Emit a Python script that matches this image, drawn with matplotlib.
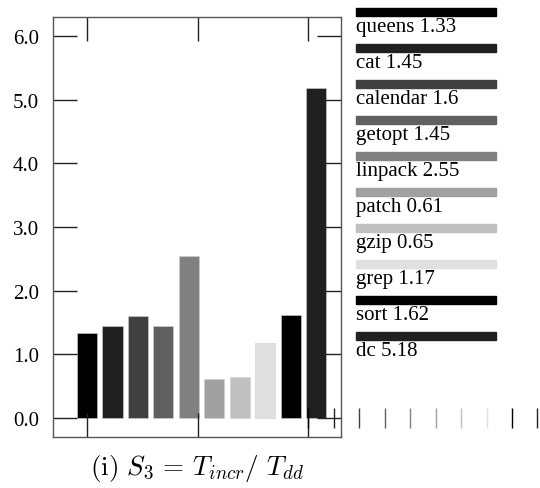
import matplotlib
matplotlib.use('Agg')
import matplotlib.pyplot as plt
from matplotlib.patches import Rectangle

plt.rcParams['font.family'] = 'Liberation Serif'
plt.rcParams['mathtext.fontset'] = 'cm'

# benchmark names, speedup values and bar greys
names = ['queens', 'cat', 'calendar', 'getopt', 'linpack',
         'patch', 'gzip', 'grep', 'sort', 'dc']
values = [1.33, 1.45, 1.6, 1.45, 2.55, 0.61, 0.65, 1.17, 1.62, 5.18]
colors = ['#000000', '#202020', '#404040', '#606060', '#808080',
          '#a0a0a0', '#c0c0c0', '#e0e0e0', '#000000', '#202020']
yticks = [0, 1, 2, 3, 4, 5, 6]
xticks = [0, 4.35, 8.7]

fig = plt.figure(figsize=(5.4, 4.89), dpi=100)
ax = fig.add_axes([53/540, 1 - 438/489, 288/540, 420/489])

x = list(range(len(values)))
ax.bar(x, values, width=0.79, color=colors, edgecolor='#d0d0d0', linewidth=0.4)

# stray zero-height marks from the original plot, continuing to the right
for i, c in enumerate(colors):
    ax.vlines(8.7 + i, -0.16, 0.16, color=c, linewidth=1.0, clip_on=False)

ax.set_xlim(-1.34, 9.98)
ax.set_ylim(-0.3, 6.3)
ax.set_yticks(yticks)
ax.set_yticklabels(['%.1f' % v for v in yticks], fontsize=15)
ax.set_xticks(xticks)
ax.set_xticklabels([])
ax.tick_params(direction='in', length=17.5, width=1.0, color='#222222',
               top=True, right=True, pad=10)
for s in ax.spines.values():
    s.set_color('#555555')
    s.set_linewidth(1.0)

# legend: grey strip above each label
for i, (n, v, c) in enumerate(zip(names, values, colors)):
    top = 9 + 36 * i
    fig.add_artist(Rectangle((356/540, 1 - (top + 8)/489), 140/540, 8/489,
                             transform=fig.transFigure, color=c))
    fig.text(356/540, 1 - (top + 23)/489, f'{n} {v}', fontsize=15,
             va='baseline', ha='left')

fig.text(197/540, 1 - 475/489, r'$\mathrm{(i)}\ S_3\,=\,T_{incr}/\ T_{dd}$',
         fontsize=19.5, ha='center', va='baseline')

fig.savefig('out.png', dpi=100)
